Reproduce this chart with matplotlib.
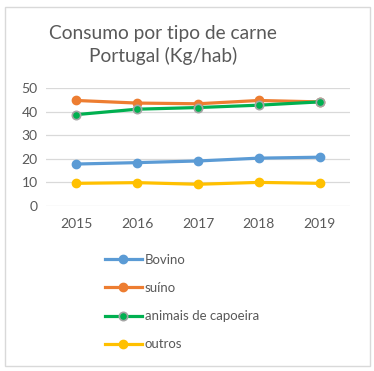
import matplotlib
matplotlib.use("Agg")
import matplotlib.pyplot as plt
from matplotlib.patches import Rectangle

plt.rcParams['font.family'] = ['Lato', 'DejaVu Sans']

years = ["2015", "2016", "2017", "2018", "2019"]
bovino = [17.7, 18.3, 19.0, 20.2, 20.6]
suino = [44.7, 43.6, 43.3, 44.7, 44.1]
capoeira = [38.7, 41.0, 41.7, 42.7, 44.1]
outros = [9.5, 9.8, 9.1, 9.9, 9.5]
series_names = ["Bovino", "suíno", "animais de capoeira", "outros"]
title = "Consumo por tipo de carne\nPortugal (Kg/hab)"
yticks = [0, 10, 20, 30, 40, 50]

W, H = 374, 371
fig = plt.figure(figsize=(W/100, H/100), dpi=100)
fig.patch.set_facecolor("white")
fig.add_artist(Rectangle((4.5/W, 1-366/H), 365.5/W, 359/H, transform=fig.transFigure,
                         fill=False, edgecolor="#D9D9D9", linewidth=1))

ax = fig.add_axes([46/W, 1-205.7/H, 304/W, (205.7-88)/H])
x = list(range(len(years)))
gray = "#595959"
ax.plot(x, bovino, color="#5B9BD5", lw=2.3, marker="o", ms=6, label=series_names[0], zorder=3)
ax.plot(x, suino, color="#ED7D31", lw=2.3, marker="o", ms=6, label=series_names[1], zorder=3)
ax.plot(x, capoeira, color="#00B050", lw=2.3, marker="o", ms=6, mfc="#00B050", mec="#A5A5A5",
        mew=1.2, label=series_names[2], zorder=4)
ax.plot(x, outros, color="#FFC000", lw=2.3, marker="o", ms=6, label=series_names[3], zorder=3)

ax.set_xlim(-0.5, len(years)-0.5)
ax.set_ylim(0, 50)
ax.set_yticks(yticks)
ax.set_xticks(x)
ax.set_xticklabels(years)
ax.grid(axis="y", color="#D9D9D9", lw=0.9)
ax.set_axisbelow(True)
for s in ax.spines.values():
    s.set_visible(False)
ax.tick_params(length=0, colors=gray, labelsize=10, pad=6)
ax.tick_params(axis="x", pad=9)

fig.text(163/W, 1-45/H, title, ha="center", va="center", fontsize=13.8, color=gray,
         linespacing=1.35)

fig.legend(loc="upper left", bbox_to_anchor=(105/W, 1-254/H), frameon=False, fontsize=9.5,
           handlelength=2.8, handletextpad=0.2, labelspacing=1.22, labelcolor=gray,
           borderpad=0, borderaxespad=0)

fig.savefig("out.png", dpi=100, facecolor="white")
